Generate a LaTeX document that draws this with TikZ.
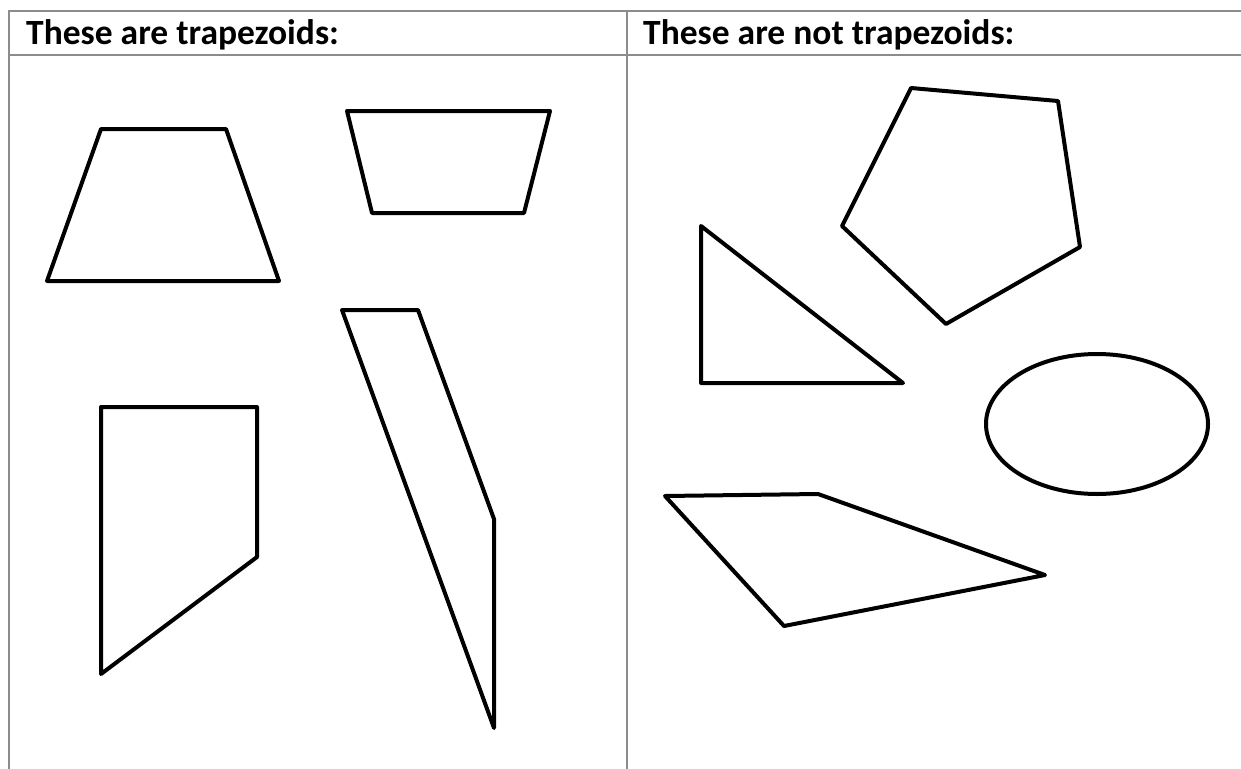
\documentclass[tikz,border=0pt]{standalone}
\usepackage{fontspec}
\setmainfont{Carlito}
\begin{document}
\begin{tikzpicture}[x=1pt,y=-1pt,
  shp/.style={draw=black,line width=4pt,line join=round},
  grid/.style={draw=black!45,line width=1.8pt},
  hdr/.style={anchor=base west,inner sep=0pt,font=\bfseries\fontsize{35.5}{40}\selectfont}]
\useasboundingbox (0,0) rectangle (1241,768);
\fill[white] (0,0) rectangle (1241,768);
% table
\draw[grid] (9,780) -- (9,11) -- (1245,11);
\draw[grid] (9,55) -- (1245,55);
\draw[grid] (627,11) -- (627,780);
\node[hdr] (h1) at (26,45) {These are trapezoids:};
\node[hdr] (h2) at (643,45) {These are not trapezoids:};
% trapezoids
\draw[shp] (47,281) -- (101,129) -- (226,129) -- (279,281) -- cycle;
\draw[shp] (347,111) -- (550,111) -- (524,213) -- (372,213) -- cycle;
\draw[shp] (101,407) -- (257,407) -- (257,557) -- (101,674) -- cycle;
\draw[shp] (342,310) -- (418,310) -- (494,519) -- (494,728) -- cycle;
% not trapezoids
\draw[shp] (701,226) -- (903,383) -- (701,383) -- cycle;
\draw[shp] (911,88) -- (1058,101) -- (1080,247) -- (946,324) -- (842,226) -- cycle;
\draw[shp] (1097,424) ellipse [x radius=111, y radius=70];
\draw[shp] (665,496) -- (818,494) -- (1045,575) -- (784,626) -- cycle;
\end{tikzpicture}
\end{document}
